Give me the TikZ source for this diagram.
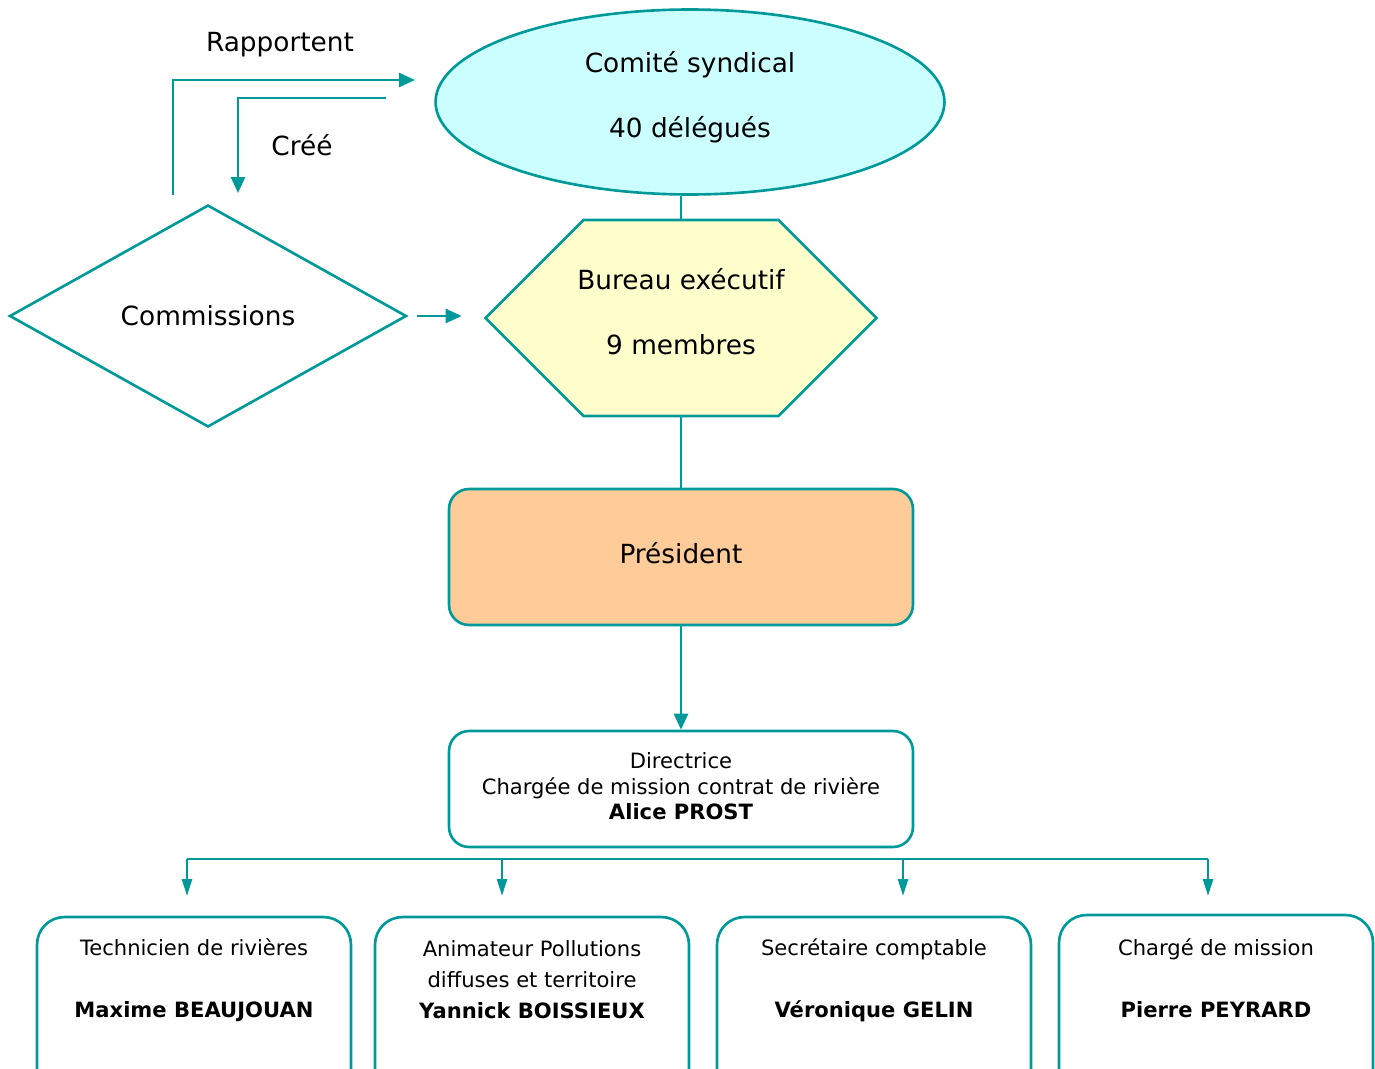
\documentclass[tikz,border=0pt]{standalone}
\usepackage{fontspec}
\setmainfont{DejaVu Sans}
\usepackage{tikz}
\usetikzlibrary{shapes.geometric}
\usetikzlibrary{shapes.symbols}
\usetikzlibrary{arrows.meta}
\definecolor{tealline}{RGB}{0,153,153}
\definecolor{cyanfill}{RGB}{204,255,255}
\definecolor{yellowfill}{RGB}{255,255,204}
\definecolor{orangefill}{RGB}{255,204,153}

\begin{document}
\begin{tikzpicture}[x=0.02cm,y=0.02cm,
 link/.style={draw=tealline,line width=1.5pt},
 arr/.style={link,-{Triangle[length=0.32cm,width=0.28cm]}},
 thinarr/.style={link,-{Triangle[length=0.34cm,width=0.2cm]}},
 bigtext/.style={font=\fontsize{15}{37}\selectfont,align=center},
 smalltext/.style={font=\fontsize{12}{17.6}\selectfont,align=center},
 staffbox/.style={link,rounded corners=0.55cm,minimum width=6.28cm,minimum height=3.72cm}]
\useasboundingbox (0,0) rectangle (1375,-1068);

\node[ellipse,link,fill=cyanfill,minimum width=10.18cm,minimum height=3.7cm,inner sep=0pt,bigtext] (comite) at (690,-102) {Comité syndical\\40 délégués\rule[-9pt]{0pt}{9pt}};

\node[signal,signal to=west and east,signal pointer angle=90,link,fill=yellowfill,minimum width=7.82cm,minimum height=3.92cm,inner sep=0pt,bigtext] (bureau) at (681,-318) {\makebox[0pt]{Bureau exécutif}\\\makebox[0pt]{9 membres}\rule[-8pt]{0pt}{8pt}};

\node[diamond,link,minimum width=7.94cm,minimum height=4.44cm,inner sep=0pt,bigtext] (commissions) at (208,-316) {Commissions};

\node[rectangle,link,fill=orangefill,rounded corners=0.4cm,minimum width=9.28cm,minimum height=2.72cm,bigtext] (president) at (681,-557) {Président\rule[-4.6pt]{0pt}{4.6pt}};

\node[rectangle,link,rounded corners=0.4cm,minimum width=9.28cm,minimum height=2.32cm,font=\fontsize{12}{14.5}\selectfont,align=center] (directrice) at (681,-789) {Directrice\\Chargée de mission contrat de rivière\\\textbf{Alice PROST}\rule[-3pt]{0pt}{3pt}};

\node[staffbox] (tech) at (194,-1010) {};
\node[staffbox] (anim) at (532,-1010) {};
\node[staffbox] (secr) at (874,-1010) {};
\node[staffbox] (charge) at (1216,-1008) {};
\node[smalltext] (techtxt) at (194,-980) {Technicien de rivières\\[17.6pt]\textbf{Maxime BEAUJOUAN}};
\node[smalltext] (animtxt) at (532,-980) {Animateur Pollutions\\diffuses et territoire\\\textbf{Yannick BOISSIEUX}};
\node[smalltext] (secrtxt) at (874,-980) {Secrétaire comptable\\[17.6pt]\textbf{Véronique GELIN}};
\node[smalltext] (chargetxt) at (1216,-978) {Chargé de mission\\[17.6pt]\textbf{Pierre PEYRARD}};

\node[bigtext] (rapportent) at (280,-45) {Rapportent};
\node[bigtext] (cree) at (302,-145) {Créé};

\coordinate (rapfrom) at (173,-195);
\coordinate (rapto) at (415,-80);
\coordinate (creefrom) at (386,-98);
\coordinate (creeto) at (238,-193);

\draw[arr] (rapfrom) |- (rapto);
\draw[arr] (creefrom) -| (creeto);
\draw[arr] ([xshift=0.18cm]commissions.east) -- ([xshift=-0.44cm]commissions.east -| bureau.west);

\draw[link] (bureau.north) -- (bureau.north |- comite.south);
\draw[link] (bureau.south) -- (president.north);
\draw[arr] (president.south) -- (directrice.north);

\coordinate (bus1) at (187,-859);
\coordinate (bus2) at (502,-859);
\coordinate (bus3) at (903,-859);
\coordinate (bus4) at (1208,-859);
\draw[link] (bus1) -- (bus4);
\draw[thinarr] (bus1) -- (187,-896);
\draw[thinarr] (bus2) -- (502,-896);
\draw[thinarr] (bus3) -- (903,-896);
\draw[thinarr] (bus4) -- (1208,-896);
\end{tikzpicture}
\end{document}
